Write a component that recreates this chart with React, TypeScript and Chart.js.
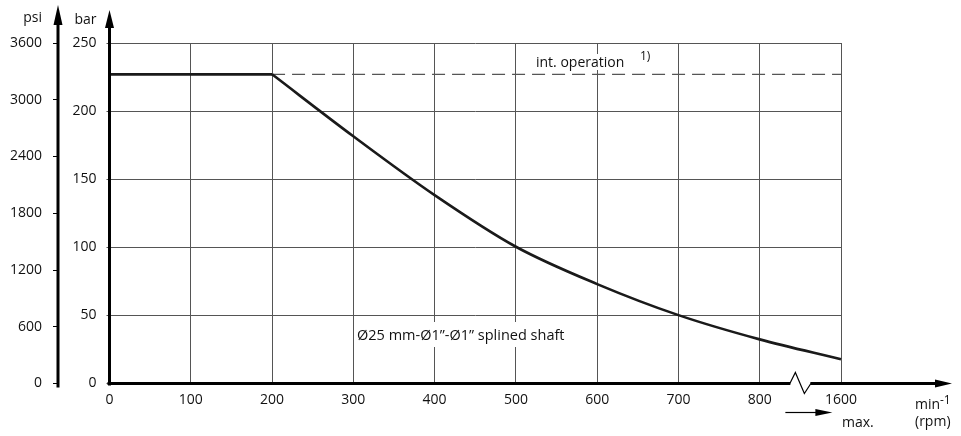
import { useEffect, useRef } from 'react';
import { Chart, registerables } from 'chart.js';

Chart.register(...registerables);

// ---- data ----
const speedLabels = ['0', '100', '200', '300', '400', '500', '600', '700', '800', '1600'];
const flatPressureBar = [227, 227, 227, null, null, null, null, null, null, null];
const shaftPressureBar = [null, null, 227, 181.5, 138.3, 100.4, 73, 50.2, 32.4, 17.8];
const intOperationBar = [null, null, 227, 227, 227, 227, 227, 227, 227, 227];
const barAxisMin = 0;
const barAxisMax = 250;
const barAxisStep = 50;
const psiAxisMin = 0;
const psiAxisMax = 3600;
const psiAxisStep = 600;

// ---- texts ----
const psiTitle = 'psi';
const barTitle = 'bar';
const shaftLabel = 'Ø25 mm-Ø1”-Ø1” splined shaft';
const intOperationLabel = 'int. operation';
const footnoteLabel = '1)';
const unitLabel = 'min';
const unitExponent = '-1';
const rpmLabel = '(rpm)';
const maxLabel = 'max.';

const FONT = "'Open Sans', 'DejaVu Sans', sans-serif";
const GRID = '#555';

const decorPlugin = {
  id: 'decor',
  afterDraw(chart: any) {
    const ctx = chart.ctx as CanvasRenderingContext2D;
    const { left, bottom } = chart.chartArea;
    const xs = chart.scales.x;
    const yp = chart.scales.psi;
    ctx.save();
    ctx.fillStyle = '#000';
    ctx.strokeStyle = '#000';
    ctx.lineCap = 'butt';

    // psi axis
    const px = yp.right;
    ctx.lineWidth = 3;
    ctx.beginPath();
    ctx.moveTo(px, 22);
    ctx.lineTo(px, bottom + 4);
    ctx.stroke();
    ctx.beginPath();
    ctx.moveTo(px, 5);
    ctx.lineTo(px - 4.5, 25);
    ctx.lineTo(px + 4.5, 25);
    ctx.closePath();
    ctx.fill();

    // bar axis
    const bx = left;
    ctx.beginPath();
    ctx.moveTo(bx, 24);
    ctx.lineTo(bx, bottom + 2);
    ctx.stroke();
    ctx.beginPath();
    ctx.moveTo(bx, 10);
    ctx.lineTo(bx - 4.5, 28);
    ctx.lineTo(bx + 4.5, 28);
    ctx.closePath();
    ctx.fill();

    // x axis
    ctx.beginPath();
    ctx.moveTo(left - 2, bottom);
    ctx.lineTo(937, bottom);
    ctx.stroke();
    ctx.beginPath();
    ctx.moveTo(952, bottom);
    ctx.lineTo(935, bottom - 4);
    ctx.lineTo(935, bottom + 4);
    ctx.closePath();
    ctx.fill();

    // axis break
    const brk = xs.getPixelForValue(8.5);
    ctx.fillStyle = '#fff';
    ctx.fillRect(brk - 10, bottom - 2.5, 20, 5);
    ctx.fillStyle = '#000';
    ctx.lineWidth = 1.2;
    ctx.beginPath();
    ctx.moveTo(brk - 10.5, bottom);
    ctx.lineTo(brk - 5, bottom - 11);
    ctx.lineTo(brk + 4, bottom + 10);
    ctx.lineTo(brk + 10.5, bottom);
    ctx.stroke();

    // "max." arrow
    const ay = 412.5;
    ctx.lineWidth = 1.2;
    ctx.beginPath();
    ctx.moveTo(brk - 15, ay);
    ctx.lineTo(brk + 16, ay);
    ctx.stroke();
    ctx.beginPath();
    ctx.moveTo(brk + 32, ay);
    ctx.lineTo(brk + 15, ay - 3.5);
    ctx.lineTo(brk + 15, ay + 3.5);
    ctx.closePath();
    ctx.fill();

    // texts
    ctx.fillStyle = '#111';
    ctx.font = `14px ${FONT}`;
    ctx.textBaseline = 'alphabetic';
    ctx.textAlign = 'right';
    ctx.fillText(psiTitle, px - 16, 22);
    ctx.fillText(barTitle, bx - 13, 24);

    ctx.textAlign = 'left';
    // int. operation
    const iw = ctx.measureText(intOperationLabel).width;
    ctx.fillStyle = '#fff';
    ctx.fillRect(534, 54, iw + 4, 16);
    ctx.fillStyle = '#111';
    ctx.fillText(intOperationLabel, 536, 67);
    ctx.font = `12px ${FONT}`;
    ctx.fillText(footnoteLabel, 640, 60);

    // shaft label
    ctx.font = `14.5px ${FONT}`;
    const sw = ctx.measureText(shaftLabel).width;
    ctx.fillStyle = '#fff';
    ctx.fillRect(354, 322, sw + 6, 25);
    ctx.fillStyle = '#111';
    ctx.fillText(shaftLabel, 357, 340);

    // unit labels
    ctx.font = `14px ${FONT}`;
    ctx.fillText(unitLabel, 915, 409);
    ctx.fillText(rpmLabel, 915, 426);
    ctx.fillText(maxLabel, 842, 427);
    ctx.font = `12px ${FONT}`;
    ctx.fillText(unitExponent, 940, 404);

    ctx.restore();
  },
};

export default function App() {
  const ref = useRef<HTMLCanvasElement>(null);
  useEffect(() => {
    const tickFont = { family: FONT, size: 14 };
    const plain = (v: any) => String(v);
    const chart = new Chart(ref.current as HTMLCanvasElement, {
      type: 'line',
      data: {
        labels: speedLabels,
        datasets: [
          {
            data: flatPressureBar,
            yAxisID: 'bar',
            borderColor: '#1a1a1a',
            borderWidth: 2.6,
            pointRadius: 0,
            tension: 0,
          },
          {
            data: shaftPressureBar,
            yAxisID: 'bar',
            borderColor: '#1a1a1a',
            borderWidth: 2.6,
            pointRadius: 0,
            cubicInterpolationMode: 'monotone',
          },
          {
            data: intOperationBar,
            yAxisID: 'bar',
            borderColor: '#555',
            borderWidth: 1.3,
            borderDash: [13, 7],
            pointRadius: 0,
            tension: 0,
          },
        ],
      },
      options: {
        responsive: false,
        animation: false,
        devicePixelRatio: 1,
        layout: { padding: { left: 0, right: 120, top: 43, bottom: 0 } },
        plugins: { legend: { display: false }, tooltip: { enabled: false } },
        scales: {
          x: {
            type: 'category',
            offset: false,
            grid: { color: GRID, lineWidth: 1, drawTicks: false },
            border: { display: false },
            ticks: { padding: 8, font: tickFont, color: '#111', maxRotation: 0, autoSkip: false },
            afterFit: (s: any) => {
              s.height = 52.5;
            },
          },
          bar: {
            type: 'linear',
            position: 'left',
            weight: 0,
            min: barAxisMin,
            max: barAxisMax,
            ticks: { stepSize: barAxisStep, padding: 10, font: tickFont, color: '#111', callback: plain },
            grid: { color: GRID, lineWidth: 1, tickLength: 3 },
            border: { display: false },
            afterFit: (s: any) => {
              s.width = 51.5;
            },
          },
          psi: {
            type: 'linear',
            position: 'left',
            weight: 1,
            min: psiAxisMin,
            max: psiAxisMax,
            ticks: { stepSize: psiAxisStep, padding: 11, font: tickFont, color: '#111', callback: plain },
            grid: { drawOnChartArea: false, color: '#000', lineWidth: 1, tickLength: 5 },
            border: { display: false },
            afterFit: (s: any) => {
              s.width = 58;
            },
          },
        },
      },
      plugins: [decorPlugin],
    } as any);
    return () => chart.destroy();
  }, []);
  return (
    <div style={{ position: 'absolute', left: 0, top: 0, width: 961, height: 436, background: '#fff' }}>
      <canvas ref={ref} width={961} height={436} style={{ display: 'block' }} />
    </div>
  );
}
